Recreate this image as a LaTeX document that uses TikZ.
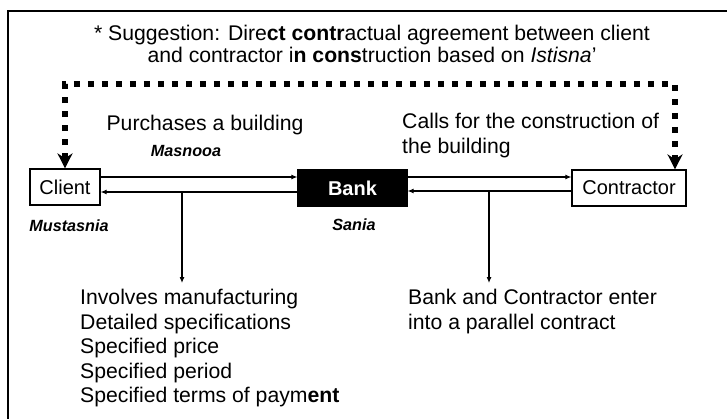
\documentclass[tikz,border=0pt]{standalone}
\usepackage{fontspec}
\setmainfont{Liberation Sans}
\usetikzlibrary{arrows.meta,positioning}

\begin{document}
\begin{tikzpicture}[x=1pt, y=-1pt,
        big/.style={font=\fontsize{21.2}{24.5}\selectfont},
        party/.style={draw, rectangle, line width=1.2pt, inner sep=0pt, minimum height=36pt, font=\fontsize{20}{24}\selectfont},
        term/.style={font=\fontsize{16.2}{18}\selectfont\bfseries\itshape, inner sep=0pt, anchor=base},
        flow/.style={-{Latex[length=6pt,width=5pt]}, line width=1.1pt},
        direct/.style={line width=5.5pt, dash pattern=on 6pt off 8pt, {Stealth[length=15pt,width=15pt]}-{Stealth[length=15pt,width=15pt]}},
        note/.style={big, align=left, inner sep=0pt, anchor=north west}]
        \useasboundingbox (0,0) rectangle (727,419);

        % Frame (open at right and bottom)
        \draw[line width=1.6pt] (8,419) -- (8,11) -- (727,11);

        % Suggestion on top
        \node[font=\fontsize{21.2}{21.5}\selectfont, align=center, inner sep=0pt, anchor=north] (title) at (372,25) {* Suggestion: Dire\textbf{ct} \textbf{contr}actual agreement between client\\and contractor i\textbf{n} \textbf{cons}truction based on \textit{Istisna}'};

        % The three parties
        \node[party, minimum width=70pt] (client) at (65,187) {Client};
        \node[party, fill=black, text=white, font=\fontsize{20}{24}\selectfont\bfseries, minimum width=109pt] (bank) at (352.5,188) {Bank};
        \node[party, minimum width=114pt] (contractor) at (629,188) {Contractor};

        % Names of the parties under Istisna'
        \node[term] (masnooa) at (186,157) {Masnooa};
        \node[term] (mustasnia) at (69,232) {Mustasnia};
        \node[term] (sania) at (354,231) {Sania};

        % Texts above and below the links
        \node[big, inner sep=0pt, anchor=base] (buy) at (205,131) {Purchases a building};
        \node[note] (calls) at (402,113) {Calls for the construction of\\the building};
        \node[note] (spec) at (80,289) {Involves manufacturing\\Detailed specifications\\Specified price\\Specified period\\Specified terms of paym\textbf{ent}};
        \node[note] (parallel) at (408,289) {Bank and Contractor enter\\into a parallel contract};

        % Links between client, bank and contractor
        \draw[flow] ([yshift=10pt]client.east) -- ([yshift=10pt]client.east -| bank.west);
        \draw[flow] ([yshift=-4pt]bank.west) -- ([yshift=-4pt]bank.west -| client.east);
        \draw[flow] ([yshift=11pt]bank.east) -- ([yshift=11pt]bank.east -| contractor.west);
        \draw[flow] ([yshift=-3pt]contractor.west) -- ([yshift=-3pt]contractor.west -| bank.east);

        % Drops to the notes
        \coordinate (drop1) at (182,192);
        \coordinate (drop2) at (489,191);
        \draw[flow] (drop1) -- ([yshift=6pt]spec.north -| drop1);
        \draw[flow] (drop2) -- ([yshift=6pt]parallel.north -| drop2);

        % Direct agreement, dotted
        \coordinate (over) at (675,84);
        \draw[direct] (client.north) |- (over) -- (over |- contractor.north);
    \end{tikzpicture}
\end{document}
